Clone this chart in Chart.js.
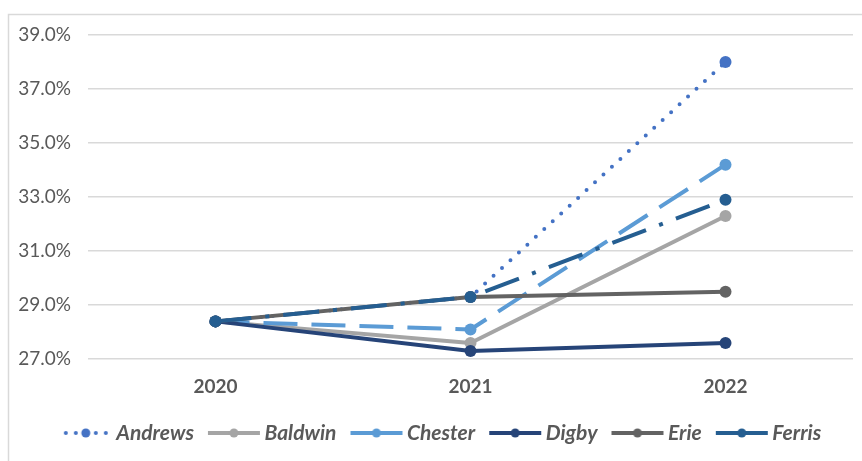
<!DOCTYPE html>
<html>
<head>
<meta charset="utf-8">
<script src="https://cdn.jsdelivr.net/npm/chart.js@4.4.1/dist/chart.umd.min.js"></script>
<style>
  body { margin: 0; background: #fff; }
  #wrap { position: relative; width: 862px; height: 461px; }
</style>
</head>
<body>
<div id="wrap"><canvas id="myChart" width="862" height="461"></canvas></div>
<script>
const years = ['2020', '2021', '2022'];
const andrews = [28.4, 29.3, 38.0];
const baldwin = [28.4, 27.6, 32.3];
const chester = [28.4, 28.1, 34.2];
const digby = [28.4, 27.3, 27.6];
const erie = [28.4, 29.3, 29.5];
const ferris = [28.4, 29.3, 32.9];
const yTicks = [27, 29, 31, 33, 35, 37, 39];

const textColor = '#595959';
const gridColor = '#d9d9d9';

const series = [
  { label: 'Andrews', data: andrews, color: '#4472c4', dash: [0, 11.5], cap: 'round', legendDash: [0, 10] },
  { label: 'Baldwin', data: baldwin, color: '#a5a5a5', dash: [], cap: 'round', legendDash: [] },
  { label: 'Chester', data: chester, color: '#5b9bd5', dash: [34, 14], cap: 'butt', legendDash: [] },
  { label: 'Digby', data: digby, color: '#264478', dash: [], cap: 'round', legendDash: [] },
  { label: 'Erie', data: erie, color: '#636363', dash: [], cap: 'round', legendDash: [] },
  { label: 'Ferris', data: ferris, color: '#255e91', dash: [36, 14, 4, 14], cap: 'butt', legendDash: [] }
];

// small line + marker picture for each legend entry
function makeSwatch(s) {
  const c = document.createElement('canvas');
  c.width = 56;
  c.height = 14;
  const g = c.getContext('2d');
  g.strokeStyle = s.color;
  g.lineWidth = 4;
  g.lineCap = s.legendDash.length ? 'round' : 'butt';
  g.setLineDash(s.legendDash);
  g.beginPath();
  if (s.legendDash.length) {
    g.moveTo(8, 7);
    g.lineTo(48.5, 7);
  } else {
    g.moveTo(2, 7);
    g.lineTo(54, 7);
  }
  g.stroke();
  g.setLineDash([]);
  g.fillStyle = s.color;
  g.beginPath();
  g.arc(28, 7, 4.5, 0, Math.PI * 2);
  g.fill();
  return c;
}

const swatches = series.map(makeSwatch);

const frame = {
  id: 'frame',
  beforeDraw(chart) {
    const c = chart.ctx;
    c.save();
    c.fillStyle = '#fff';
    c.fillRect(0, 0, chart.width, chart.height);
    c.strokeStyle = gridColor;
    c.lineWidth = 1.5;
    c.strokeRect(8.5, 14.5, 900, 500);
    c.restore();
  },
  afterLayout(chart) {
    // legend sits a bit right of the canvas centre
    if (chart.legend) chart.legend.left += 34;
  }
};

const ctx = document.getElementById('myChart').getContext('2d');
const myChart = new Chart(ctx, {
  type: 'line',
  data: {
    labels: years,
    datasets: series.map((s, i) => ({
      label: s.label,
      data: s.data,
      borderColor: s.color,
      backgroundColor: s.color,
      borderWidth: 4,
      borderDash: s.dash,
      borderCapStyle: s.cap,
      borderJoinStyle: 'round',
      pointRadius: 6,
      pointHoverRadius: 6,
      pointBackgroundColor: s.color,
      pointBorderColor: s.color,
      pointBorderWidth: 0,
      tension: 0,
      fill: false,
      order: series.length - i
    }))
  },
  options: {
    responsive: false,
    animation: false,
    devicePixelRatio: 1,
    layout: {
      padding: { top: 35, right: 9, left: 0, bottom: 7.5 }
    },
    scales: {
      x: {
        offset: true,
        grid: { display: false },
        border: { display: false },
        ticks: {
          color: textColor,
          padding: 8,
          font: { family: 'Lato', size: 19, weight: 'bold' }
        },
        afterFit(scale) { scale.height -= 3.5; }
      },
      y: {
        min: 27,
        max: 39,
        afterBuildTicks(scale) {
          scale.ticks = yTicks.map(v => ({ value: v }));
        },
        afterFit(scale) { scale.width = 88; },
        grid: {
          color: gridColor,
          lineWidth: 1.5,
          drawTicks: false
        },
        border: { display: false },
        ticks: {
          color: textColor,
          padding: 17,
          font: { family: 'Lato', size: 19 },
          callback: function(value) { return value.toFixed(1) + '%'; }
        }
      }
    },
    plugins: {
      legend: {
        position: 'bottom',
        labels: {
          usePointStyle: true,
          pointStyleWidth: 40,
          padding: 20,
          color: textColor,
          font: { family: 'Lato', size: 21, weight: 'bold', style: 'italic' },
          generateLabels(chart) {
            return series.map((s, i) => ({
              text: s.label,
              fontColor: textColor,
              pointStyle: swatches[i],
              fillStyle: s.color,
              strokeStyle: s.color,
              lineWidth: 0,
              hidden: false,
              datasetIndex: i
            }));
          }
        }
      },
      tooltip: { enabled: false }
    }
  },
  plugins: [frame]
});
</script>
</body>
</html>
